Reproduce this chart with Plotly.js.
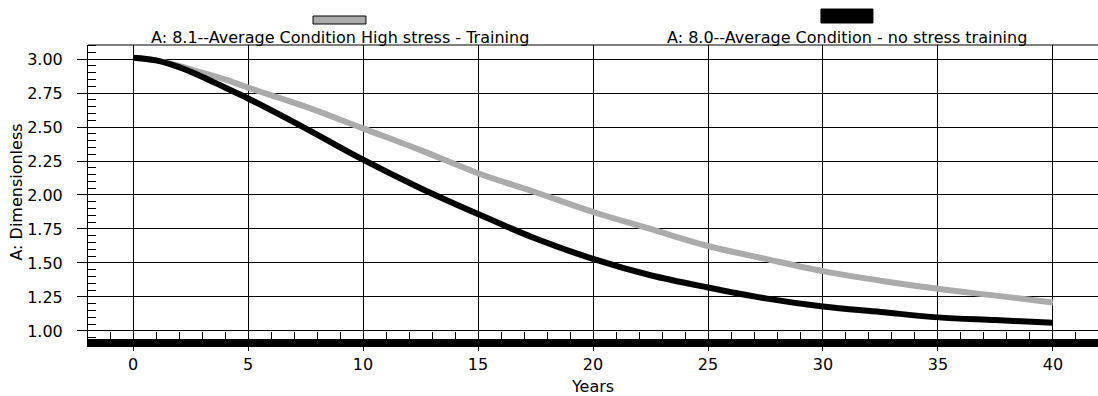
<!DOCTYPE html>
<html>
<head>
<meta charset="utf-8">
<script src="https://cdn.plot.ly/plotly-3.0.1.min.js"></script>
<style>html,body{margin:0;padding:0;background:#fff;}#chart{width:1098px;height:396px;}</style>
</head>
<body>
<div id="chart"></div>
<script>
// Data
const years = [0, 1, 2, 3, 4, 5, 7.5, 10, 12.5, 15, 17.5, 20, 22.5, 25, 27.5, 30, 32.5, 35, 37.5, 40];
const highStress = [3.01, 2.99, 2.95, 2.90, 2.85, 2.79, 2.65, 2.49, 2.33, 2.16, 2.02, 1.875, 1.75, 1.625, 1.53, 1.44, 1.37, 1.31, 1.26, 1.21];
const noStress = [3.01, 2.99, 2.94, 2.87, 2.79, 2.71, 2.49, 2.26, 2.05, 1.86, 1.68, 1.53, 1.41, 1.32, 1.24, 1.18, 1.14, 1.10, 1.08, 1.06];
const seriesNames = ["A: 8.1--Average Condition High stress - Training", "A: 8.0--Average Condition - no stress training"];
const seriesColors = ["#ababab", "#000000"];
const xTitle = "Years";
const yTitle = "A: Dimensionless";

const font = {family: "DejaVu Sans, Liberation Sans, Arial, sans-serif", size: 16, color: "#000"};

const traces = [
  {x: years, y: highStress, name: seriesNames[0], mode: "lines", line: {color: seriesColors[0], width: 6, shape: "spline"}},
  {x: years, y: noStress, name: seriesNames[1], mode: "lines", line: {color: seriesColors[1], width: 6, shape: "spline"}}
];

const layout = {
  width: 1098, height: 396,
  margin: {l: 88, r: 0, t: 45, b: 57},
  paper_bgcolor: "#fff", plot_bgcolor: "#fff",
  font: font,
  showlegend: false,
  xaxis: {
    range: [-1.957, 41.957],
    tickvals: [0, 5, 10, 15, 20, 25, 30, 35, 40],
    ticks: "outside", ticklen: 4, tickcolor: "#000", tickwidth: 1,
    minor: {dtick: 1, tick0: 0, ticks: "inside", ticklen: 7, tickcolor: "#000", showgrid: false},
    showgrid: true, gridcolor: "#000", gridwidth: 1,
    showline: true, linecolor: "#000", linewidth: 8,
    zeroline: false,
    ticklabelstandoff: 0,
    title: {text: xTitle, font: font, standoff: 12}
  },
  yaxis: {
    range: [0.941, 3.103],
    tickvals: [1.0, 1.25, 1.5, 1.75, 2.0, 2.25, 2.5, 2.75, 3.0],
    tickformat: ".2f",
    ticks: "outside", ticklen: 10, tickcolor: "#000", tickwidth: 1,
    minor: {dtick: 0.05, tick0: 0, ticks: "inside", ticklen: 8, tickcolor: "#000", showgrid: false},
    showgrid: true, gridcolor: "#000", gridwidth: 1,
    showline: true, linecolor: "#000", linewidth: 1,
    zeroline: false,
    ticklabelstandoff: 11,
    title: {text: yTitle, font: font, standoff: 0}
  },
  shapes: [
    {type: "line", xref: "paper", yref: "paper", x0: 0, x1: 1, y0: 1, y1: 1, line: {color: "#000", width: 1}},
    {type: "rect", xref: "paper", yref: "paper", x0: 0.2228, x1: 0.2752, y0: 1.0714, y1: 1.0986, fillcolor: seriesColors[0], line: {color: "#000", width: 1}},
    {type: "rect", xref: "paper", yref: "paper", x0: 0.7257, x1: 0.7772, y0: 1.0748, y1: 1.1224, fillcolor: seriesColors[1], line: {color: "#000", width: 1}}
  ],
  annotations: [
    {xref: "paper", yref: "paper", x: 0.2495, y: 1.027, xanchor: "center", yanchor: "middle", showarrow: false, text: seriesNames[0], font: font},
    {xref: "paper", yref: "paper", x: 0.7515, y: 1.027, xanchor: "center", yanchor: "middle", showarrow: false, text: seriesNames[1], font: font}
  ]
};

Plotly.newPlot("chart", traces, layout, {displayModeBar: false, staticPlot: true});
</script>
</body>
</html>
